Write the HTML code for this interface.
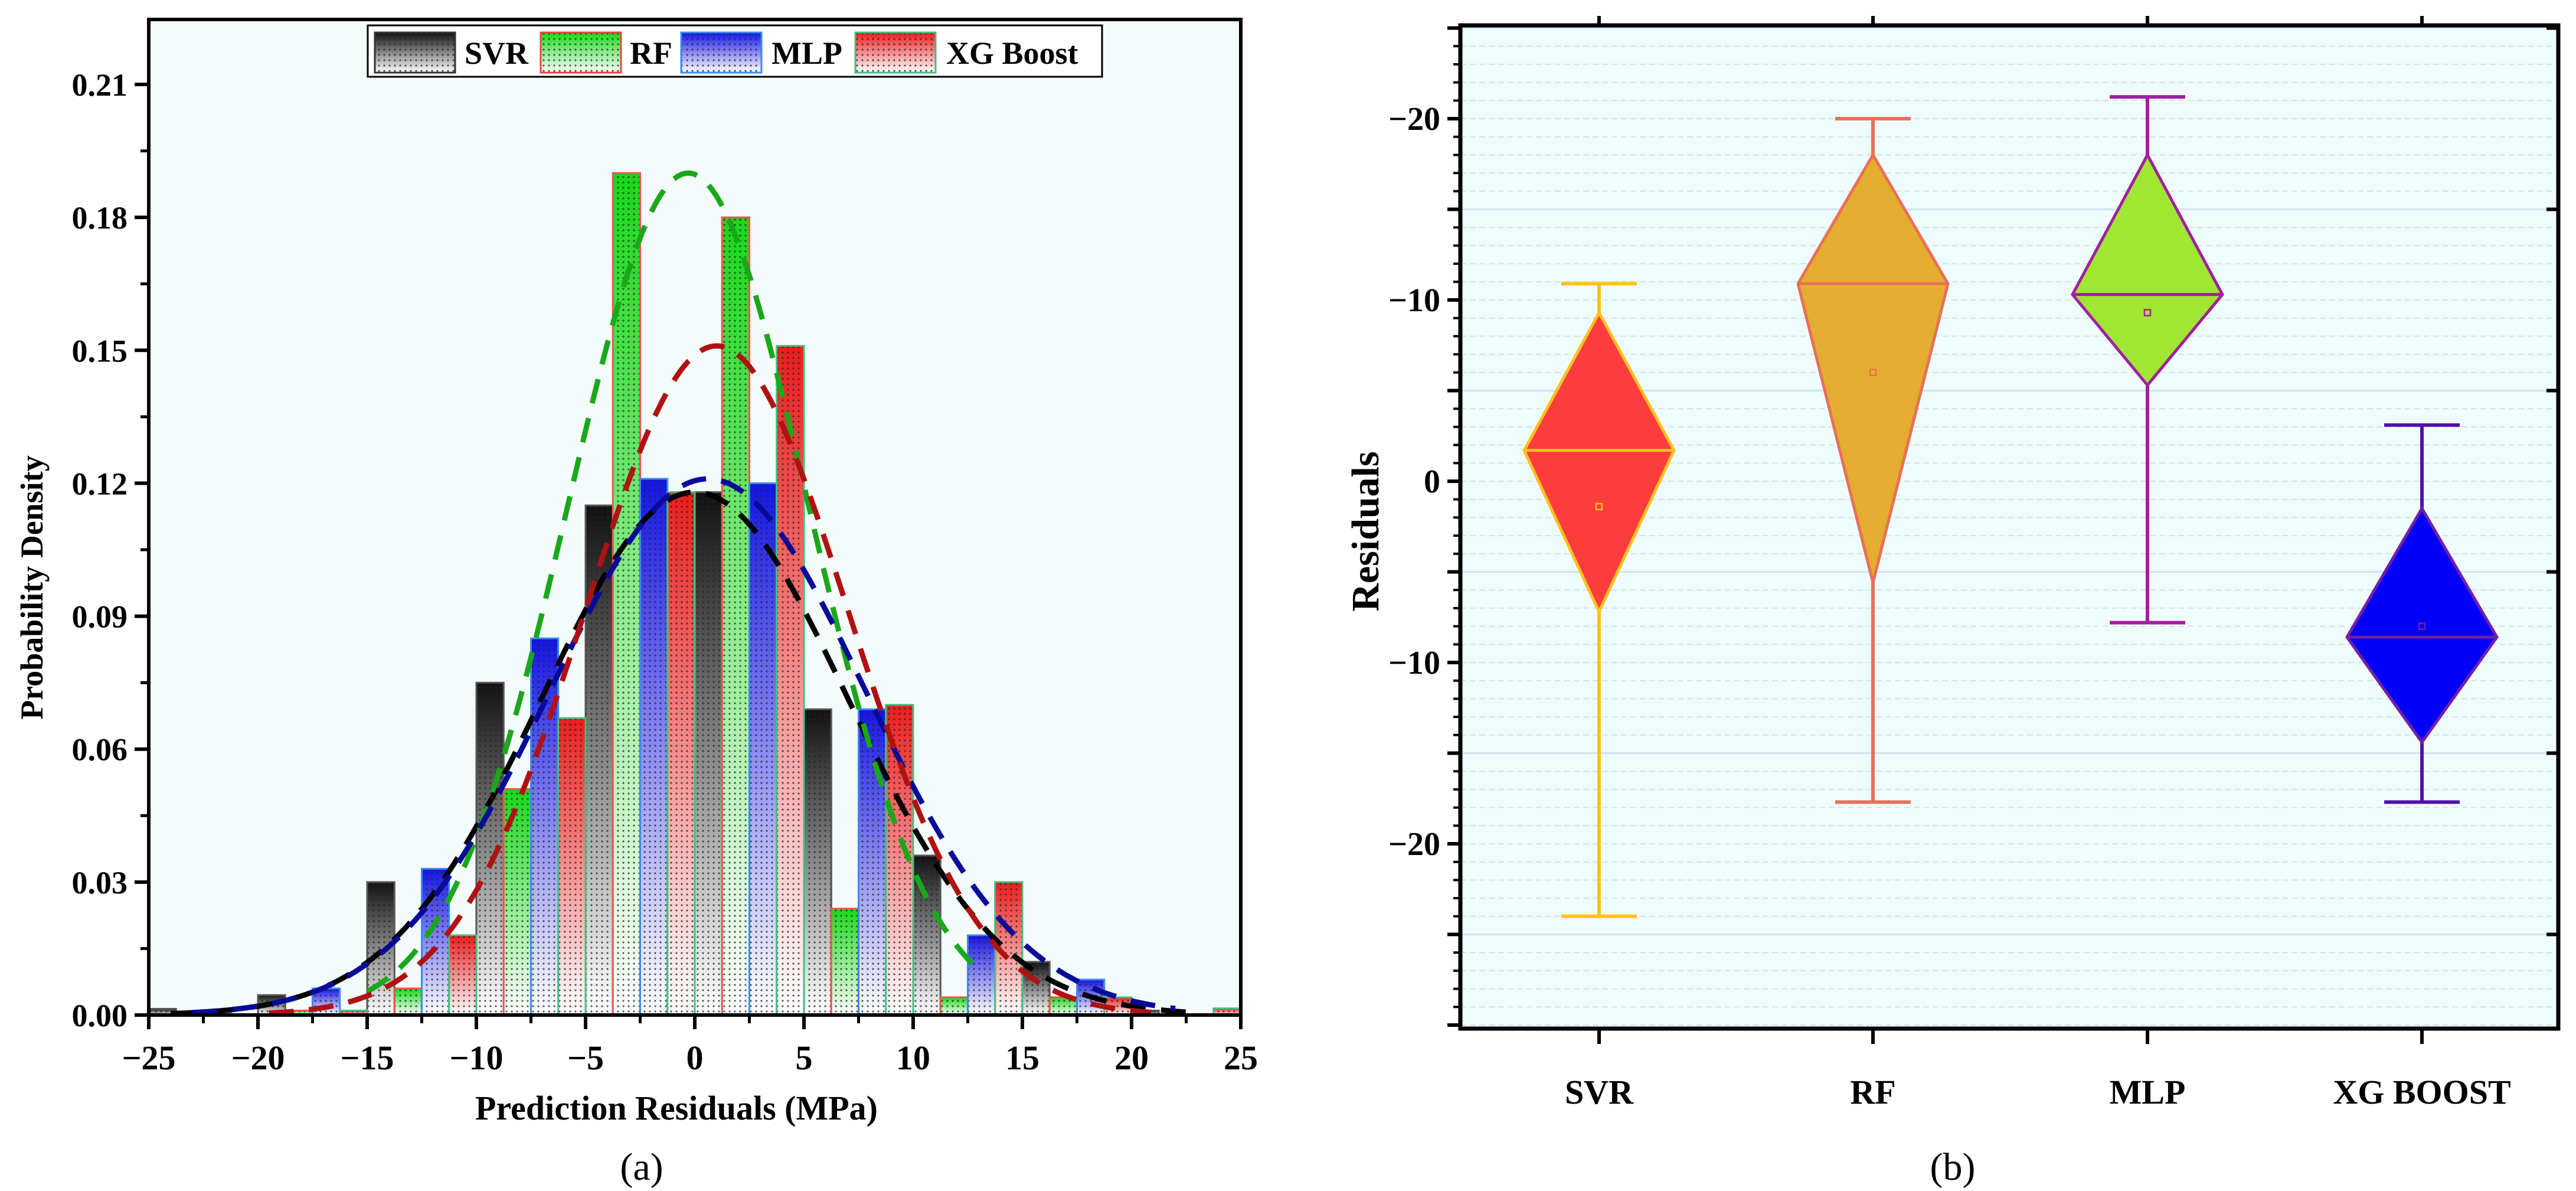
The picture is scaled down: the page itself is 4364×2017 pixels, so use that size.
<!DOCTYPE html>
<html><head><meta charset="utf-8"><style>
html,body{margin:0;padding:0;background:#fff}
svg{display:block}
text{font-family:"Liberation Serif",serif}
</style></head><body>
<svg id="svg" width="4364" height="2017" viewBox="0 0 4364 2017" xmlns="http://www.w3.org/2000/svg">
<defs>
<pattern id="dots" width="9" height="9" patternUnits="userSpaceOnUse"><circle cx="3" cy="3" r="1.6" fill="#222" opacity="0.75"/></pattern>
<linearGradient id="g0" x1="0" y1="0" x2="0" y2="1"><stop offset="0" stop-color="#111"/><stop offset="1" stop-color="#fff"/></linearGradient>
<linearGradient id="g1" x1="0" y1="0" x2="0" y2="1"><stop offset="0" stop-color="#18d818"/><stop offset="1" stop-color="#fff"/></linearGradient>
<linearGradient id="g2" x1="0" y1="0" x2="0" y2="1"><stop offset="0" stop-color="#1414e6"/><stop offset="1" stop-color="#fff"/></linearGradient>
<linearGradient id="g3" x1="0" y1="0" x2="0" y2="1"><stop offset="0" stop-color="#ec1c1c"/><stop offset="1" stop-color="#fff"/></linearGradient>
</defs>
<g id="chartA"></g>
<g id="chartB"></g>
</svg>
<script>
// ---------- Chart (a) data ----------
const seriesNames = ["SVR","RF","MLP","XG Boost"];
const binStarts = [-25,-20,-15,-10,-5,0,5,10,15,20];
const svrVals = [0.0014,0.0045,0.030,0.075,0.115,0.118,0.069,0.036,0.012,0.001];
const rfVals  = [0.0,0.001,0.006,0.051,0.190,0.180,0.024,0.004,0.004,0.0];
const mlpVals = [0.001,0.006,0.033,0.085,0.121,0.120,0.069,0.018,0.008,0.0];
const xgVals  = [0.0,0.001,0.018,0.067,0.118,0.151,0.070,0.030,0.004,0.0015];
const curveMeans = [0.0,-0.3,0.6,1.0];
const curveSigmas = [7.0,5.5,7.2,6.0];
const curvePeaks = [0.118,0.19,0.121,0.151];
const curveFrom = [-24,-15,-23,-19.5];
const curveTo = [23,13,22,21];
const xTicksA = [-25,-20,-15,-10,-5,0,5,10,15,20,25];
const yTicksA = [0,0.03,0.06,0.09,0.12,0.15,0.18,0.21];
// ---------- Chart (b) data ----------
const boxCats = ["SVR","RF","MLP","XG BOOST"];
const whiskerTop = [10.9,20,21.2,3.1];
const diamondTop = [9.3,18,18,-1.5];
const medians = [1.7,10.9,10.3,-8.6];
const diamondBottom = [-7.2,-5.6,5.3,-14.4];
const whiskerBottom = [-24,-17.7,-7.8,-17.7];
const means = [-1.4,6.0,9.3,-8.0];
const yTicksB = [20,10,0,-10,-20];
const yTickLabelsB = ["\u221220","\u221210","0","\u221210","\u221220"];

const NS="http://www.w3.org/2000/svg";
function mk(tag,attrs,parent){const e=document.createElementNS(NS,tag);for(const k in attrs)e.setAttribute(k,attrs[k]);parent.appendChild(e);return e;}
const A=document.getElementById('chartA');
const B=document.getElementById('chartB');

// ===== Chart A =====
const AL=252,AR=2102,AT=33,AB=1719;
const xA=v=>AL+(v+25)/50*(AR-AL);
const yA=v=>AB-v/0.21*(AB-143);
let bg=mk('rect',{x:AL,y:AT,width:AR-AL,height:AB-AT,fill:'#f4fbfb'},A);


const allVals=[svrVals,rfVals,mlpVals,xgVals];
const strokes=['#555','#f45050','#3a8af0','#40c080'];
const keys=['svr','rf','mlp','xgboost'];
for(let s=0;s<4;s++){
  for(let i=0;i<binStarts.length;i++){
    const v=allVals[s][i]; if(v<=0) continue;
    const x0=xA(binStarts[i]+1.25*s), x1=xA(binStarts[i]+1.25*(s+1));
    const g=mk('g',{},A);
    
    
    mk('rect',{x:x0,y:yA(v),width:x1-x0,height:AB-yA(v),fill:'url(#g'+s+')'},g);
    mk('rect',{x:x0,y:yA(v),width:x1-x0,height:AB-yA(v),fill:'url(#dots)',stroke:strokes[s],'stroke-width':3},g);
  }
}
const curveColors=['#000','#1aa81a','#0a0a9a','#b01212'];
for(let s=0;s<4;s++){
  let d='';
  for(let x=curveFrom[s];x<=curveTo[s]+0.001;x+=0.2){
    const y=curvePeaks[s]*Math.exp(-Math.pow(x-curveMeans[s],2)/(2*curveSigmas[s]*curveSigmas[s]));
    d+=(d?'L':'M')+xA(x).toFixed(1)+','+yA(y).toFixed(1);
  }
  const p=mk('path',{d:d,fill:'none',stroke:curveColors[s],'stroke-width':9,'stroke-dasharray':'42,26'},A);
  
  
}
let fr=mk('rect',{x:AL,y:AT,width:AR-AL,height:AB-AT,fill:'none',stroke:'#000','stroke-width':6},A);


xTicksA.forEach(t=>{
  mk('line',{x1:xA(t),x2:xA(t),y1:AB,y2:AB+24,stroke:'#000','stroke-width':6},A);
  const tx=mk('text',{x:xA(t),y:AB+92,'font-size':58,'font-weight':'bold','text-anchor':'middle'},A);
  tx.textContent=(t<0?'\u2212'+(-t):''+t);
  
  
});
for(let t=-22.5;t<25;t+=5) mk('line',{x1:xA(t),x2:xA(t),y1:AB,y2:AB+14,stroke:'#000','stroke-width':5},A);
yTicksA.forEach(t=>{
  mk('line',{x1:AL-24,x2:AL,y1:yA(t),y2:yA(t),stroke:'#000','stroke-width':6},A);
  const tx=mk('text',{x:AL-36,y:yA(t)+19,'font-size':54,'font-weight':'bold','text-anchor':'end'},A);
  tx.textContent=t.toFixed(2);
  
  
});
for(let t=0.015;t<0.225;t+=0.03) mk('line',{x1:AL-14,x2:AL,y1:yA(t),y2:yA(t),stroke:'#000','stroke-width':5},A);
let xt=mk('text',{x:1146,y:1896,'font-size':58,'font-weight':'bold','text-anchor':'middle'},A);
xt.textContent='Prediction Residuals (MPa)';


let yt=mk('text',{x:0,y:0,'font-size':54,'font-weight':'bold','text-anchor':'middle',transform:'translate(72,995) rotate(-90)'},A);
yt.textContent='Probability Density';


let ca=mk('text',{x:1087,y:1998,'font-size':66,'text-anchor':'middle'},A);
ca.textContent='(a)';


// legend
const lg=mk('g',{},A);


mk('rect',{x:623,y:43,width:1244,height:87,fill:'#fff',stroke:'#000','stroke-width':3},lg);
const swX=[635,916,1154,1449], lbX=[787,1067,1307,1603];
const swStroke=['#333','#f04040','#3a8af0','#40c080'];
for(let s=0;s<4;s++){
  const e=mk('g',{},lg);
  
  
  mk('rect',{x:swX[s],y:55,width:136,height:68,fill:'url(#g'+s+')'},e);
  mk('rect',{x:swX[s],y:55,width:136,height:68,fill:'url(#dots)',stroke:swStroke[s],'stroke-width':3},e);
  const t=mk('text',{x:lbX[s],y:108,'font-size':54,'font-weight':'bold'},e);
  t.textContent=seriesNames[s];
}

// ===== Chart B =====
const BL=2474,BR=4334,BT=43,BB=1742;
const y0B=815, perB=30.7;
const yB=v=>y0B-v*perB;
const catX=[2709,3173,3638,4103];
let bg2=mk('rect',{x:BL,y:BT,width:BR-BL,height:BB-BT,fill:'#effcfc'},B);


for(let v=-30;v<=25;v++){
  const y=yB(v); if(y<BT||y>BB) continue;
  if(((v%10)+10)%10===5) mk('line',{x1:BL,x2:BR,y1:y,y2:y,stroke:'#cfe4ee','stroke-width':3},B);
  else mk('line',{x1:BL,x2:BR,y1:y,y2:y,stroke:'#d6e2ea','stroke-width':2,'stroke-dasharray':'10,6'},B);
}
const fills=['#fc3d3d','#e3ae2f','#a0e632','#0000f8'];
const outl=['#ffc020','#e87058','#a020a0','#7020a8'];
const whisk=['#ffc020','#e8705a','#a020a0','#5010b0'];
const medC=['#ffc020','#e87058','#a020a0','#7020a8'];
const bkeys=['svr','rf','mlp','xgboost'];
for(let i=0;i<4;i++){
  const g=mk('g',{},B);
  
  
  const cx=catX[i],hw=127,cw=64;
  mk('line',{x1:cx,x2:cx,y1:yB(whiskerTop[i]),y2:yB(diamondTop[i]),stroke:whisk[i],'stroke-width':6},g);
  mk('line',{x1:cx,x2:cx,y1:yB(diamondBottom[i]),y2:yB(whiskerBottom[i]),stroke:whisk[i],'stroke-width':6},g);
  mk('line',{x1:cx-cw,x2:cx+cw,y1:yB(whiskerTop[i]),y2:yB(whiskerTop[i]),stroke:whisk[i],'stroke-width':6},g);
  mk('line',{x1:cx-cw,x2:cx+cw,y1:yB(whiskerBottom[i]),y2:yB(whiskerBottom[i]),stroke:whisk[i],'stroke-width':6},g);
  mk('polygon',{points:`${cx},${yB(diamondTop[i])} ${cx+hw},${yB(medians[i])} ${cx},${yB(diamondBottom[i])} ${cx-hw},${yB(medians[i])}`,fill:fills[i],stroke:outl[i],'stroke-width':5},g);
  mk('line',{x1:cx-hw,x2:cx+hw,y1:yB(medians[i]),y2:yB(medians[i]),stroke:medC[i],'stroke-width':5},g);
  mk('rect',{x:cx-5,y:yB(means[i])-5,width:10,height:10,fill:'none',stroke:outl[i],'stroke-width':2.5},g);
  mk('line',{x1:cx,x2:cx,y1:BB,y2:BB+26,stroke:'#000','stroke-width':6},B);
  mk('line',{x1:cx,x2:cx,y1:BT,y2:BT-16,stroke:'#000','stroke-width':6},B);
  const t=mk('text',{x:cx,y:BB+127,'font-size':58,'font-weight':'bold','text-anchor':'middle'},B);
  t.textContent=boxCats[i];
  
  
}
let fr2=mk('rect',{x:BL,y:BT,width:BR-BL,height:BB-BT,fill:'none',stroke:'#000','stroke-width':7},B);


for(let v=-30;v<=25;v++){
  const y=yB(v); if(y<BT+4||y>BB-4) continue;
  const major=(v%5===0);
  mk('line',{x1:BL-(major?22:12),x2:BL,y1:y,y2:y,stroke:'#000','stroke-width':major?6:4},B);
  if(major && v%10!==0) mk('line',{x1:BR,x2:BR-20,y1:y,y2:y,stroke:'#000','stroke-width':6},B);
}
yTicksB.forEach((v,k)=>{
  const t=mk('text',{x:BL-34,y:yB(v)+19,'font-size':56,'font-weight':'bold','text-anchor':'end'},B);
  t.textContent=yTickLabelsB[k];
  
  
});
let yt2=mk('text',{x:0,y:0,'font-size':66,'font-weight':'bold','text-anchor':'middle',transform:'translate(2335,900) rotate(-90)'},B);
yt2.textContent='Residuals';


let cb=mk('text',{x:3308,y:1998,'font-size':66,'text-anchor':'middle'},B);
cb.textContent='(b)';


</script>
</body></html>
